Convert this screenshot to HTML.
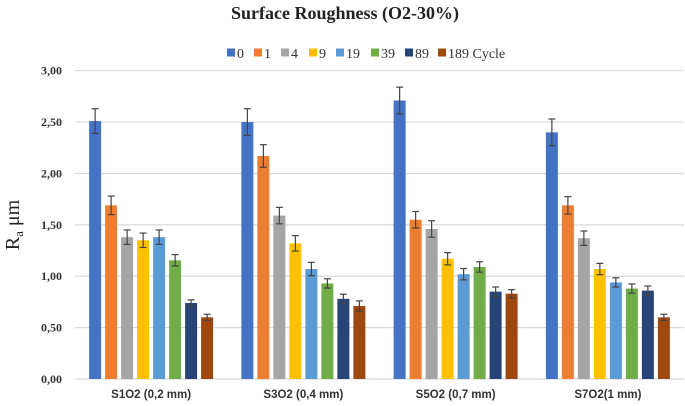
<!DOCTYPE html>
<html><head><meta charset="utf-8"><style>
body{margin:0;background:#fff;}
svg{display:block;}
</style></head><body>
<svg id="chart" width="685" height="406" viewBox="0 0 685 406" xmlns="http://www.w3.org/2000/svg">
<text x="345" y="19" text-anchor="middle" font-family="Liberation Serif, serif" font-weight="bold" font-size="18" fill="#222">Surface Roughness (O2-30%)</text>
<g id="legend"></g>
<g id="grid"></g>
<g id="yaxis"></g>
<g id="bars"></g>
<g id="xaxis"></g>
<text transform="translate(19,225) rotate(-90)" text-anchor="middle" font-family="Liberation Serif, serif" font-size="20" fill="#222">R<tspan font-size="13" dy="4">a</tspan><tspan dy="-4"> μm</tspan></text>
</svg>
<script>
const categories = ["S1O2 (0,2 mm)", "S3O2 (0,4 mm)", "S5O2 (0,7 mm)", "S7O2(1 mm)"];
const seriesNames = ["0", "1", "4", "9", "19", "39", "89", "189 Cycle"];
const seriesColors = ["#4472c4", "#ed7d31", "#a5a5a5", "#ffc000", "#5b9bd5", "#70ad47", "#264478", "#9e480e"];
const values = [
  [2.51, 1.69, 1.38, 1.35, 1.38, 1.155, 0.74, 0.60],
  [2.50, 2.17, 1.59, 1.32, 1.07, 0.93, 0.78, 0.71],
  [2.71, 1.55, 1.46, 1.17, 1.02, 1.09, 0.85, 0.83],
  [2.40, 1.69, 1.37, 1.07, 0.94, 0.88, 0.86, 0.60]
];
const errors = [
  [0.12, 0.09, 0.07, 0.07, 0.07, 0.055, 0.03, 0.03],
  [0.13, 0.11, 0.08, 0.075, 0.065, 0.045, 0.045, 0.05],
  [0.13, 0.08, 0.08, 0.06, 0.055, 0.05, 0.045, 0.04],
  [0.13, 0.085, 0.07, 0.055, 0.045, 0.045, 0.045, 0.03]
];
const yTicks = [0, 0.5, 1, 1.5, 2, 2.5, 3];
const yTickLabels = ["0,00", "0,50", "1,00", "1,50", "2,00", "2,50", "3,00"];

const NS = "http://www.w3.org/2000/svg";
const plotL = 75, plotR = 684, y0 = 379, yTop = 70.7, yMax = 3;
const catW = (plotR - plotL) / categories.length;
function yScale(v){ return y0 - (v / yMax) * (y0 - yTop); }
function xCat(i){ return plotL + i * catW; }
function mk(tag, attrs, parent){ const e = document.createElementNS(NS, tag); for (const k in attrs) e.setAttribute(k, attrs[k]); parent.appendChild(e); return e; }

const grid = document.getElementById('grid');
const yaxis = document.getElementById('yaxis');
yTicks.forEach((t, i) => {
  const l = mk('line', {x1: plotL, x2: plotR, y1: yScale(t), y2: yScale(t), stroke: '#d9d9d9', 'stroke-width': 1.2}, grid);
  
  
  const tx = mk('text', {x: 62, y: yScale(t) + 4, 'text-anchor': 'end', 'font-family': 'Liberation Serif, serif', 'font-weight': 'bold', 'font-size': 12, fill: '#333'}, yaxis);
  tx.textContent = yTickLabels[i];
  
  
});

const bars = document.getElementById('bars');
const xaxis = document.getElementById('xaxis');
const barW = 12, pitch = 16;
categories.forEach((c, ci) => {
  const start = xCat(ci) + (catW - seriesNames.length * pitch) / 2 + 2;
  values[ci].forEach((v, si) => {
    const x = start + si * pitch;
    const r = mk('rect', {x: x, y: yScale(v), width: barW, height: y0 - yScale(v), fill: seriesColors[si]}, bars);
    
    
    const e = errors[ci][si], cx = x + barW / 2;
    const g = mk('g', {stroke: '#444', 'stroke-width': 1.2, fill: 'none'}, bars);
    
    
    mk('line', {x1: cx, x2: cx, y1: yScale(v + e), y2: yScale(v - e)}, g);
    mk('line', {x1: cx - 3.5, x2: cx + 3.5, y1: yScale(v + e), y2: yScale(v + e)}, g);
    mk('line', {x1: cx - 3.5, x2: cx + 3.5, y1: yScale(v - e), y2: yScale(v - e)}, g);
  });
  const t = mk('text', {x: xCat(ci) + catW / 2, y: 398, 'text-anchor': 'middle', 'font-family': 'Liberation Sans, sans-serif', 'font-weight': 'bold', 'font-size': 11.5, fill: '#333'}, xaxis);
  t.textContent = c;
  
  
});

const legend = document.getElementById('legend');
const legX = [227, 254, 281, 309, 336, 371, 405, 438];
seriesNames.forEach((n, i) => {
  const g = mk('g', {}, legend);
  
  
  mk('rect', {x: legX[i], y: 48.5, width: 8, height: 8, fill: seriesColors[i]}, g);
  const t = mk('text', {x: legX[i] + 10, y: 58, 'font-family': 'Liberation Serif, serif', 'font-size': 14, fill: '#333'}, g);
  t.textContent = n;
});
</script>
</body></html>
